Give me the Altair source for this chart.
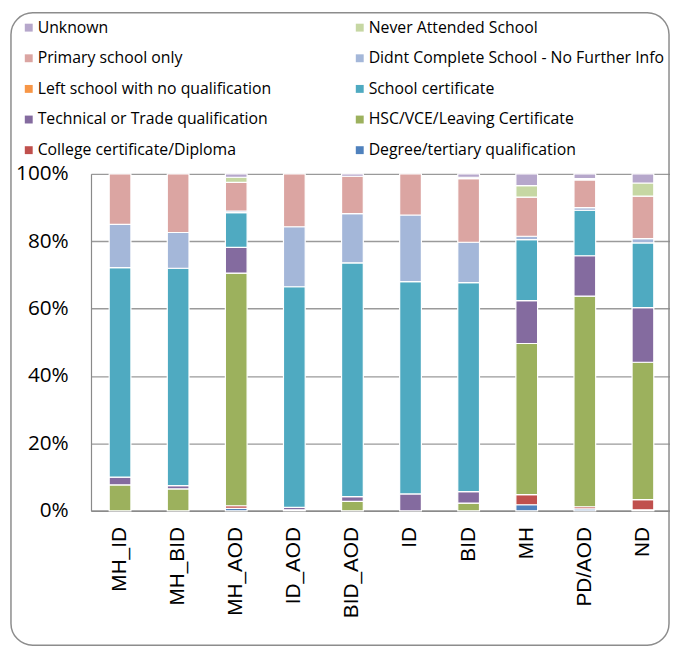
import altair as alt
import pandas as pd

categories = ["MH_ID", "MH_BID", "MH_AOD", "ID_AOD", "BID_AOD", "ID", "BID", "MH", "PD/AOD", "ND"]

# legend order (column-major, 2 columns, 5 rows)
legend_order = [
    "Unknown", "Primary school only", "Left school with no qualification",
    "Technical or Trade qualification", "College certificate/Diploma",
    "Never Attended School", "Didnt Complete School - No Further Info",
    "School certificate", "HSC/VCE/Leaving Certificate", "Degree/tertiary qualification",
]
legend_colors = [
    "#b6a7cb", "#dba5a2", "#f79646", "#846b9f", "#c0504d",
    "#c6d7a3", "#a4b7d9", "#4faac1", "#9cb15d", "#4f81bd",
]

# values (percent) per series, stacked bottom to top
degree    = [0.0, 0.0, 0.7, 0.3, 0.0, 0.0, 0.0, 1.8, 0.6, 0.3]
college   = [0.0, 0.0, 0.8, 0.0, 0.0, 0.0, 0.0, 3.0, 0.6, 3.0]
hsc       = [7.7, 6.5, 69.0, 0.0, 2.8, 0.0, 2.3, 44.8, 62.5, 40.8]
technical = [2.3, 1.0, 7.6, 0.7, 1.4, 5.0, 3.4, 12.7, 12.0, 16.2]
school    = [62.2, 64.5, 10.3, 65.5, 69.4, 63.0, 62.0, 18.1, 13.5, 19.2]
left      = [0.0, 0.0, 0.0, 0.0, 0.0, 0.0, 0.0, 0.0, 0.0, 0.0]
didnt     = [12.8, 10.6, 0.5, 17.8, 14.6, 19.8, 12.0, 1.0, 0.8, 1.3]
primary   = [15.0, 17.4, 8.5, 15.7, 11.1, 12.2, 18.9, 11.6, 8.2, 12.6]
never     = [0.0, 0.0, 1.5, 0.0, 0.0, 0.0, 0.4, 3.4, 0.4, 3.9]
unknown   = [0.0, 0.0, 1.0, 0.0, 0.7, 0.0, 1.0, 3.5, 1.4, 2.7]

stack_series = [
    ("Degree/tertiary qualification", degree),
    ("College certificate/Diploma", college),
    ("HSC/VCE/Leaving Certificate", hsc),
    ("Technical or Trade qualification", technical),
    ("School certificate", school),
    ("Left school with no qualification", left),
    ("Didnt Complete School - No Further Info", didnt),
    ("Primary school only", primary),
    ("Never Attended School", never),
    ("Unknown", unknown),
]

rows = []
for idx, (name, vals) in enumerate(stack_series):
    for cat, v in zip(categories, vals):
        if v > 0:
            rows.append({"cat": cat, "series": name, "val": v, "idx": idx})
df = pd.DataFrame(rows)

bars = alt.Chart(df).mark_bar(stroke="white", strokeWidth=1.2).encode(
    x=alt.X(
        "cat:N",
        sort=categories,
        scale=alt.Scale(paddingInner=0.626, paddingOuter=0.313, range=[0, 588]),
        axis=alt.Axis(
            title=None, labelAngle=-90, ticks=False, labelPadding=16,
            labelFont="Liberation Sans", labelFontSize=21, labelColor="#000000",
            domainColor="#8a8a8a", domainWidth=1.5, grid=False,
        ),
    ),
    y=alt.Y(
        "val:Q",
        stack="normalize",
        scale=alt.Scale(domain=[0, 1]),
        axis=alt.Axis(
            title=None, format=".0%", values=[0, 0.2, 0.4, 0.6, 0.8, 1.0],
            ticks=False, labelPadding=23, labelFont="Open Sans", labelFontSize=21,
            labelColor="#000000", domainColor="#8a8a8a", domainWidth=1.2,
            grid=True, gridColor="#9a9a9a", gridWidth=1.4,
        ),
    ),
    color=alt.Color(
        "series:N",
        scale=alt.Scale(domain=legend_order, range=legend_colors),
        legend=alt.Legend(
            title=None, orient="none", legendX=-71, legendY=-156, columns=2,
            columnPadding=81, rowPadding=15, symbolType="square", symbolSize=64,
            symbolStrokeWidth=0, labelFont="Open Sans", labelFontSize=16,
            labelColor="#000000", labelLimit=0, labelOffset=1, padding=0,
        ),
    ),
    order=alt.Order("idx:Q", sort="ascending"),
)

frame_df = pd.DataFrame({"k": [0]})
frame = alt.Chart(frame_df).mark_rect(
    fillOpacity=0, stroke="#8c8c8c", strokeWidth=1.5, cornerRadius=22
).encode(
    x=alt.value(-81), x2=alt.value(585), y=alt.value(-163), y2=alt.value(477)
)

chart = alt.layer(frame, bars).properties(
    width=586,
    height=341,
    padding={"left": 84, "top": 164, "right": 0, "bottom": 138},
    autosize=alt.AutoSizeParams(type="none"),
).configure_view(stroke=None)

chart.save("out.html", embed_options={"renderer": "svg", "actions": False})
